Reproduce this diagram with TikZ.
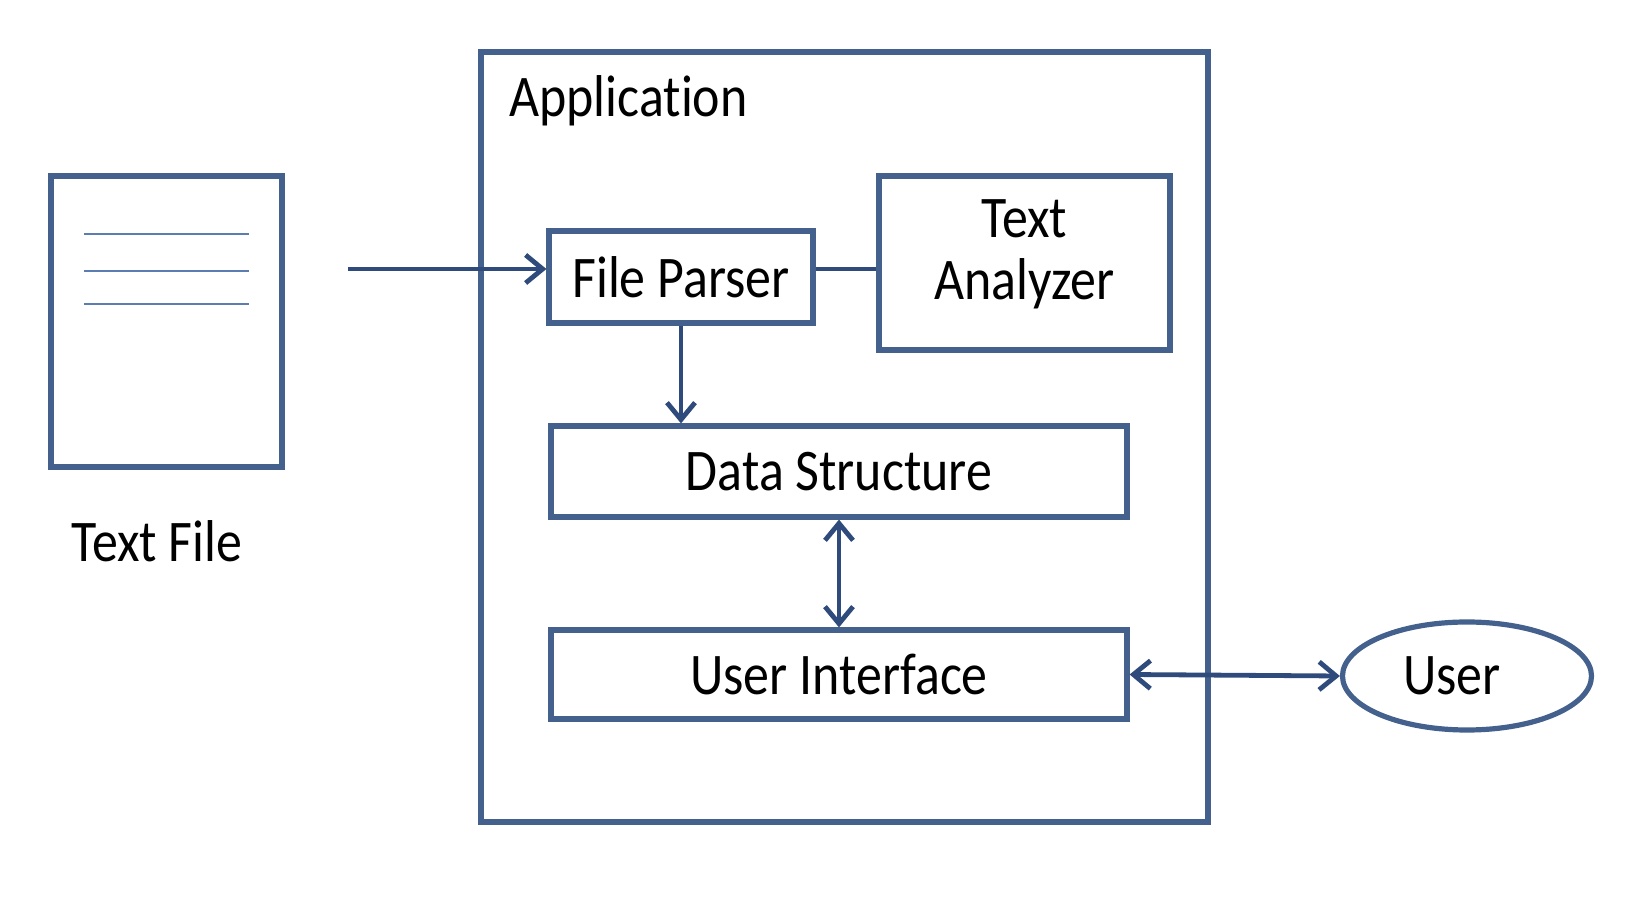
\documentclass[tikz,border=0pt]{standalone}
\usepackage{fontspec}
\setmainfont[FakeStretch=0.88,Ligatures=NoCommon]{Carlito}
\usetikzlibrary{arrows.meta,shapes.geometric,calc}
\definecolor{boxblue}{HTML}{44618E}
\definecolor{arrblue}{HTML}{2F4B7C}
\definecolor{lineblue}{HTML}{5B7DB1}
\begin{document}
\begin{tikzpicture}[x=0.5pt,y=-0.5pt,
  box/.style={draw=boxblue,line width=2.6pt,rectangle,inner sep=0pt,align=center,
    font=\fontsize{29.5}{31}\selectfont},
  lbl/.style={inner sep=0pt,font=\fontsize{29.5}{31}\selectfont},
  conn/.style={draw=arrblue,line width=2.4pt},
  tipe/.style={-{Straight Barb[length=8.5pt,width=14pt]}},
  tipb/.style={{Straight Barb[length=8.5pt,width=14pt]}-{Straight Barb[length=8.5pt,width=14pt]}},
  docline/.style={draw=lineblue,line width=0.9pt}
]
\useasboundingbox (0,0) rectangle (1640,924);
% text file
\node[box,minimum width=115.5pt,minimum height=145.5pt] (tf) at (166.5,321.5) {};
\coordinate (l1a) at (84,234); \coordinate (l1b) at (249,234);
\coordinate (l2a) at (84,271); \coordinate (l2b) at (249,271);
\coordinate (l3a) at (84,304); \coordinate (l3b) at (249,304);
\draw[docline] (l1a) -- (l1b);
\draw[docline] (l2a) -- (l2b);
\draw[docline] (l3a) -- (l3b);
\node[lbl,anchor=base] (tfl) at (157,562) {Text File};
% application
\node[box,minimum width=363.5pt,minimum height=385pt] (app) at (844.5,437) {};
\node[lbl,anchor=base west] (appl) at (509,117) {Application};
% inner boxes
\node[box,minimum width=132pt,minimum height=46pt] (fp) at (681,277) {File Parser};
\node[box,minimum width=145.5pt,minimum height=87pt,text depth=13pt] (ta) at (1024.5,263) {Text\\Analyzer};
\node[box,minimum width=288pt,minimum height=45.5pt] (ds) at (839,471.5) {Data Structure};
\node[box,minimum width=288pt,minimum height=44.5pt] (ui) at (839,674.5) {User Interface};
\node[draw=boxblue,line width=2.6pt,ellipse,inner sep=0pt,minimum width=124.5pt,minimum height=54pt,
  font=\fontsize{29.5}{31}\selectfont] (user) at (1467,676) {User\hspace*{15pt}};
% connectors
\coordinate (src) at (348,269);
\coordinate (fpin) at ($(fp.west)+(0,4pt)$);
\coordinate (fpout) at ($(fp.east)+(0,4pt)$);
\draw[conn,tipe] (src) -- (fpin);
\draw[conn] (fpout) -- (fpout -| ta.west);
\draw[conn,tipe] (fp.south) -- (fp.south |- ds.north);
\draw[conn,tipb] (ds.south) -- (ui.north);
\draw[conn,tipb] (ui.east) -- (user.west);
\end{tikzpicture}
\end{document}
